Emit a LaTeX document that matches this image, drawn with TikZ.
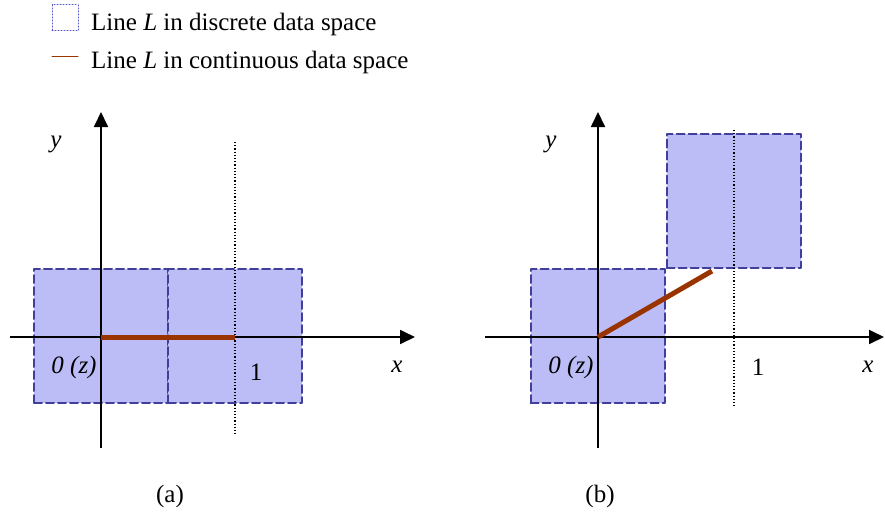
\documentclass[tikz,border=0pt]{standalone}
\usepackage{fontspec}
\setmainfont{Liberation Serif}
\usetikzlibrary{arrows.meta,positioning}
\definecolor{cellblue}{HTML}{BCBCF6}
\definecolor{celledge}{HTML}{40409C}
\definecolor{keyblue}{HTML}{5050C8}
\definecolor{rust}{HTML}{993300}
\tikzset{
    every picture/.style={line cap=round,line join=round},
    cell/.style={draw=celledge,fill=cellblue,line width=2pt,
      dash pattern=on 8pt off 4pt,minimum size=134pt,inner sep=0pt,outer sep=0pt},
    keybox/.style={draw=keyblue,fill=white,line width=1pt,dotted,
      minimum size=26pt,inner sep=0pt},
    axis/.style={-{Triangle[length=15pt,width=14pt]},line width=1.8pt,line cap=butt},
    guide/.style={dotted,line width=1.2pt,line cap=butt},
    contline/.style={draw=rust,line width=5pt,line cap=butt},
    lbl/.style={font=\fontsize{25}{30}\selectfont,inner sep=0pt}
}
\begin{document}
\begin{tikzpicture}[x=1pt,y=-1pt]
  \useasboundingbox (0,0) rectangle (885,519);
  % legend
  \node[keybox] (key1) at (65,18) {};
  \node[lbl,anchor=base west] (key1txt) at (91,31) {Line \textit{L} in discrete data space};
  \coordinate (key2a) at (52,57);
  \coordinate (key2b) at (78,57);
  \draw[rust,line width=1pt] (key2a) -- (key2b);
  \node[lbl,anchor=base west] (key2txt) at (91,68) {Line \textit{L} in continuous data space};
  % (a)
  \node[cell] (a0) at (101,336) {};
  \node[cell] (a1) at (235,336) {};
  \coordinate (aO) at (101,337);
  \coordinate (aL) at (10,337);
  \coordinate (aR) at (415,337);
  \coordinate (aB) at (101,448);
  \coordinate (aT) at (101,112);
  \coordinate (aDT) at (235,142);
  \coordinate (aDB) at (235,435);
  \coordinate (aE) at (235,337);
  \draw[guide] (aDT) -- (aDB);
  \draw[axis] (aL) -- (aR);
  \draw[axis] (aB) -- (aT);
  \draw[contline] (aO) -- (aE);
  \node[lbl] (ay) at (56,144) {\textit{y}};
  \node[lbl] (ax) at (397,367) {\textit{x}};
  \node[lbl] (az) at (74,367) {\textit{0 (z)}};
  \node[lbl] (a1lbl) at (256,372) {1};
  \node[lbl] (acap) at (170,496) {(a)};
  % (b)
  \node[cell] (b0) at (597.5,336) {};
  \node[cell] (b1) at (733.5,200.5) {};
  \coordinate (bO) at (598,337);
  \coordinate (bL) at (485,337);
  \coordinate (bR) at (884,337);
  \coordinate (bB) at (598,448);
  \coordinate (bT) at (598,112);
  \coordinate (bDT) at (734,130);
  \coordinate (bDB) at (734,407);
  \coordinate (bE) at (712,271);
  \draw[guide] (bDT) -- (bDB);
  \draw[axis] (bL) -- (bR);
  \draw[axis] (bB) -- (bT);
  \draw[contline] (bO) -- (bE);
  \node[lbl] (by) at (551,144) {\textit{y}};
  \node[lbl] (bx) at (868,367) {\textit{x}};
  \node[lbl] (bz) at (571,367) {\textit{0 (z)}};
  \node[lbl] (b1lbl) at (758,367) {1};
  \node[lbl] (bcap) at (600,496) {(b)};
\end{tikzpicture}
\end{document}
